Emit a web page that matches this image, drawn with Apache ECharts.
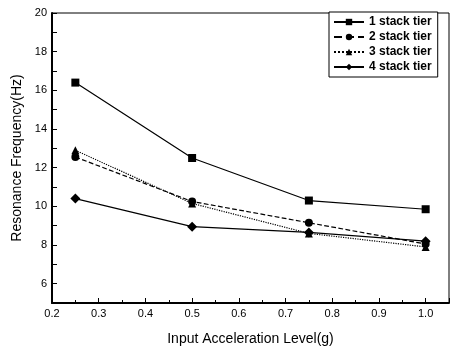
<!DOCTYPE html>
<html>
<head>
<meta charset="utf-8">
<script src="https://cdn.jsdelivr.net/npm/echarts@6/dist/echarts.min.js"></script>
<style>
  html, body { margin: 0; padding: 0; background: #fff; }
  #chart { width: 450px; height: 351px; }
</style>
</head>
<body>
<div id="chart"></div>
<script>
// input acceleration levels (g)
const accel = [0.25, 0.5, 0.75, 1.0];
const seriesNames = ['1 stack tier', '2 stack tier', '3 stack tier', '4 stack tier'];
const tier1 = [16.4, 12.5, 10.3, 9.85];
const tier2 = [12.55, 10.25, 9.15, 8.05];
const tier3 = [12.9, 10.15, 8.6, 7.9];
const tier4 = [10.4, 8.95, 8.65, 8.2];

const chart = echarts.init(document.getElementById('chart'));
const font = 'Liberation Sans, Arial, sans-serif';

const pairs = (ys) => accel.map((x, i) => [x, ys[i]]);

const mkSeries = (name, ys, symbol, size, lineType) => ({
  name: name,
  type: 'line',
  data: pairs(ys),
  symbol: symbol,
  symbolSize: size,
  itemStyle: { color: '#000' },
  lineStyle: { color: '#000', width: 1.2, type: lineType },
  z: 3
});

const option = {
  animation: false,
  backgroundColor: '#fff',
  grid: {
    left: 52, right: 1, top: 13, bottom: 44,
    show: true, borderColor: '#000', borderWidth: 1
  },
  legend: {
    orient: 'vertical',
    left: 329, top: 12,
    itemWidth: 30, itemHeight: 8, itemGap: 3,
    padding: [4, 6, 4, 4],
    borderColor: '#000', borderWidth: 1,
    backgroundColor: '#fff',
    textStyle: { fontFamily: font, fontSize: 12, fontWeight: 'bold', color: '#000' },
    data: seriesNames
  },
  xAxis: {
    type: 'value',
    min: 0.2, max: 1.05, interval: 0.1,
    name: 'Input Acceleration Level(g)',
    nameLocation: 'middle', nameGap: 29,
    nameTextStyle: { fontFamily: font, fontSize: 14, color: '#000' },
    axisLine: { show: true, lineStyle: { color: '#000', width: 2 } },
    axisTick: { show: true, inside: true, length: 5, lineStyle: { color: '#000' } },
    minorTick: { show: true, splitNumber: 2, length: 3, lineStyle: { color: '#000' } },
    splitLine: { show: false },
    axisLabel: {
      fontFamily: font, fontSize: 11, color: '#000', margin: 5,
      showMaxLabel: false,
      formatter: (v) => (v <= 1.0001 ? v.toFixed(1) : '')
    }
  },
  yAxis: {
    type: 'value',
    min: 5, max: 20, interval: 1,
    name: 'Resonance Frequency(Hz)',
    nameLocation: 'middle', nameGap: 27,
    nameTextStyle: { fontFamily: font, fontSize: 14, color: '#000' },
    axisLine: { show: true, lineStyle: { color: '#000', width: 2 } },
    axisTick: { show: true, inside: true, length: 5, lineStyle: { color: '#000' } },
    splitLine: { show: false },
    axisLabel: {
      fontFamily: font, fontSize: 11, color: '#000', margin: 5,
      formatter: (v) => (v % 2 === 0 ? String(v) : '')
    }
  },
  series: [
    mkSeries(seriesNames[0], tier1, 'rect', 8, 'solid'),
    mkSeries(seriesNames[1], tier2, 'circle', 8, 'dashed'),
    mkSeries(seriesNames[2], tier3, 'triangle', 8, 'dotted'),
    mkSeries(seriesNames[3], tier4, 'diamond', 10, 'solid')
  ]
};

chart.setOption(option);
</script>
</body>
</html>
